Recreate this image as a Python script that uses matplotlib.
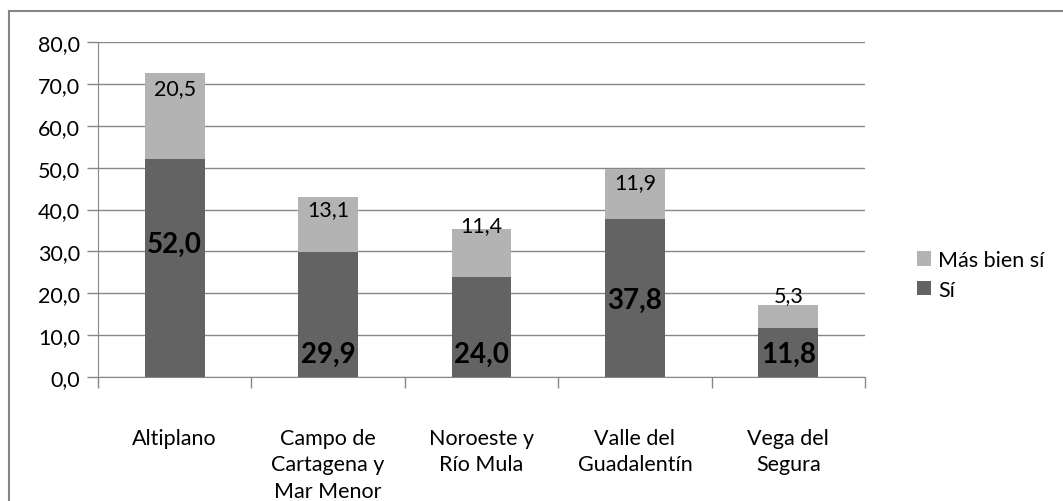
import matplotlib.pyplot as plt
import numpy as np
from matplotlib.lines import Line2D

plt.rcParams['font.family'] = ['Lato', 'DejaVu Sans']

# data
categories = ["Altiplano", "Campo de\nCartagena y\nMar Menor", "Noroeste y\nRío Mula",
              "Valle del\nGuadalentín", "Vega del\nSegura"]
si = [52.0, 29.9, 24.0, 37.8, 11.8]
mas_bien_si = [20.5, 13.1, 11.4, 11.9, 5.3]

# where the value labels sit (data units)
si_label_y = [31.7, 5.5, 5.5, 18.4, 5.5]
mbs_label_y = [69.0, 40.1, 36.3, 46.5, 19.6]

c_dark = "#636363"
c_light = "#b3b3b3"
c_grid = "#878787"

fig = plt.figure(figsize=(10.63, 5.02), dpi=100)
ax = fig.add_axes([98 / 1063, 1 - 378 / 502, (865 - 98) / 1063, (378 - 43) / 502])

x = np.arange(len(categories))
ax.bar(x, si, width=0.39, color=c_dark, label="Sí", zorder=3)
ax.bar(x, mas_bien_si, width=0.39, bottom=si, color=c_light, label="Más bien sí", zorder=3)

for i in range(len(categories)):
    ax.text(x[i], si_label_y[i], f"{si[i]:.1f}".replace(".", ","), ha="center", va="center",
            fontsize=20, fontweight="bold", color="black", zorder=4)
    ax.text(x[i], mbs_label_y[i], f"{mas_bien_si[i]:.1f}".replace(".", ","), ha="center",
            va="center", fontsize=15.5, color="black", zorder=4)

ax.set_xlim(-0.5, len(categories) - 0.5)
ax.set_ylim(0, 80)
ax.set_yticks(np.arange(0, 81, 10))
ax.set_yticklabels([f"{v:.1f}".replace(".", ",") for v in np.arange(0, 81, 10)], fontsize=15.5)
ax.yaxis.grid(True, color=c_grid, linewidth=1, zorder=0)

ax.set_xticks(x)
ax.set_xticklabels(categories, fontsize=15.5, linespacing=1.38, va="top")
ax.tick_params(axis="x", length=0, pad=37)
ax.set_xticks(np.arange(-0.5, len(categories), 1), minor=True)
ax.tick_params(axis="x", which="minor", length=8, color=c_grid, width=1)
ax.tick_params(axis="y", length=8, color=c_grid, width=1, pad=5)

for side in ["top", "right"]:
    ax.spines[side].set_visible(False)
for side in ["left", "bottom"]:
    ax.spines[side].set_color(c_grid)

handles, labels = ax.get_legend_handles_labels()
leg = fig.legend(handles[::-1], labels[::-1], loc="center left",
                 bbox_to_anchor=(898 / 1063, 1 - 276 / 502), frameon=False, fontsize=15.5,
                 handlelength=0.65, handleheight=0.65, handletextpad=0.3, labelspacing=0.45)

# chart-area border (only top and left edges visible in the crop)
fig.add_artist(Line2D([9 / 1063, 1], [1 - 12 / 502, 1 - 12 / 502], transform=fig.transFigure,
                      color="#868686", linewidth=1.5))
fig.add_artist(Line2D([9 / 1063, 9 / 1063], [0, 1 - 12 / 502], transform=fig.transFigure,
                      color="#868686", linewidth=1.5))

fig.savefig("out.png", dpi=100)
